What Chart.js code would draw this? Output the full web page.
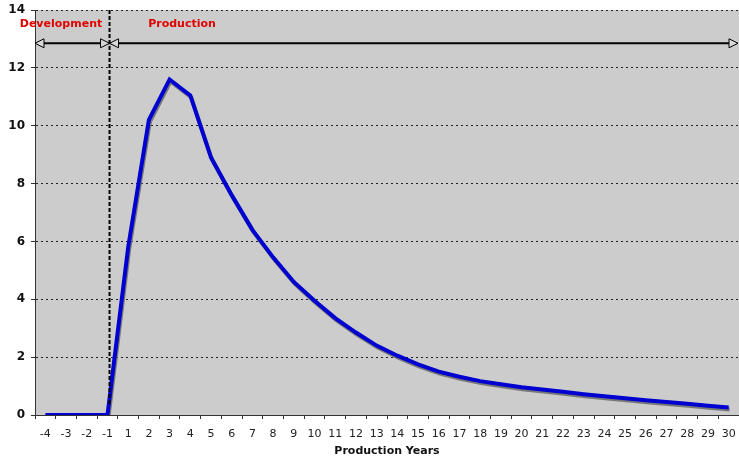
<!DOCTYPE html>
<html lang="en">
<head>
  <meta charset="UTF-8" />
  <title>Production Profile</title>
  <script src="https://cdn.jsdelivr.net/npm/chart.js@4.4.1/dist/chart.umd.min.js"></script>
  <style>
    body { margin: 0; background: #fff; }
    .wrap { width: 739px; height: 460px; }
  </style>
</head>
<body>
  <div class="wrap"><canvas id="chart"></canvas></div>

  <script>
    // Data
    const years = ['-4','-3','-2','-1','1','2','3','4','5','6','7','8','9','10','11','12','13',
                   '14','15','16','17','18','19','20','21','22','23','24','25','26','27','28','29','30'];
    const production = [0, 0, 0, 0, 5.8, 10.2, 11.6, 11.05, 8.9, 7.6, 6.4, 5.45, 4.6, 3.95, 3.35,
                        2.85, 2.4, 2.05, 1.75, 1.5, 1.32, 1.17, 1.06, 0.96, 0.88, 0.8, 0.72, 0.65,
                        0.58, 0.51, 0.45, 0.39, 0.32, 0.26];
    const yTicks = [0, 2, 4, 6, 8, 10, 12, 14];

    // phase markers (category index + value on y axis)
    const phaseSplit = 3.1;   // just right of year -1
    const arrowLevel = 12.85;

    Chart.defaults.font.family = "'DejaVu Sans', Verdana, sans-serif";

    // grey plot area, shadowed line, phase arrows and labels
    const decor = {
      id: 'decor',
      beforeDraw(chart) {
        const { ctx, chartArea: a } = chart;
        ctx.save();
        ctx.fillStyle = '#cccccc';
        ctx.fillRect(a.left, a.top, a.right - a.left, a.bottom - a.top);
        ctx.restore();
      },
      beforeDatasetDraw(chart) {
        const ctx = chart.ctx;
        ctx.save();
        ctx.shadowColor = 'rgba(110,110,110,0.9)';
        ctx.shadowOffsetX = 1;
        ctx.shadowOffsetY = 2;
        ctx.shadowBlur = 0;
      },
      afterDatasetDraw(chart) {
        chart.ctx.restore();
      },
      afterDraw(chart) {
        const { ctx, chartArea: a, scales } = chart;
        const xs = scales.x.getPixelForValue(phaseSplit);
        const ya = scales.y.getPixelForValue(arrowLevel);
        ctx.save();

        // dashed split line
        ctx.strokeStyle = '#000';
        ctx.lineWidth = 2;
        ctx.setLineDash([4, 2]);
        ctx.beginPath();
        ctx.moveTo(xs, a.top);
        ctx.lineTo(xs, scales.y.getPixelForValue(0.35));
        ctx.stroke();
        ctx.setLineDash([]);

        // arrow shafts
        ctx.lineWidth = 2;
        ctx.beginPath();
        ctx.moveTo(a.left + 2, ya);
        ctx.lineTo(a.right - 2, ya);
        ctx.stroke();

        function head(tipX, dir) {
          const len = 9, half = 4.5;
          ctx.beginPath();
          ctx.moveTo(tipX, ya);
          ctx.lineTo(tipX - dir * len, ya - half);
          ctx.lineTo(tipX - dir * len, ya + half);
          ctx.closePath();
          ctx.fillStyle = '#d8d8d8';
          ctx.fill();
          ctx.lineWidth = 1;
          ctx.strokeStyle = '#000';
          ctx.stroke();
        }
        head(a.left, -1);
        head(xs, 1);
        head(xs, -1);
        head(a.right - 1, 1);

        // phase labels
        ctx.fillStyle = '#e00000';
        ctx.font = "bold 11px 'DejaVu Sans', Verdana, sans-serif";
        ctx.textAlign = 'center';
        ctx.textBaseline = 'middle';
        const yl = scales.y.getPixelForValue(13.5);
        ctx.fillText('Development', 61, yl);
        ctx.fillText('Production', scales.x.getPixelForValue(6.6), yl);
        ctx.restore();
      }
    };

    new Chart(document.getElementById('chart'), {
      type: 'line',
      data: {
        labels: years,
        datasets: [{
          data: production,
          borderColor: '#0000d0',
          borderWidth: 4,
          pointRadius: 0,
          tension: 0,
          fill: false
        }]
      },
      options: {
        responsive: true,
        maintainAspectRatio: false,
        animation: false,
        layout: { padding: { top: 10, right: 0, left: 0, bottom: 0 } },
        plugins: { legend: { display: false }, tooltip: { enabled: false } },
        scales: {
          x: {
            offset: true,
            grid: { offset: true, drawOnChartArea: false, tickLength: 4, color: '#333' },
            border: { color: '#333', width: 1 },
            ticks: { color: '#222', font: { size: 11 }, padding: 9, maxRotation: 0, autoSkip: false },
            title: { display: true, text: 'Production Years', color: '#111',
                     font: { size: 11, weight: 'bold' }, padding: { top: 2, bottom: 2 } },
            afterFit(s) { s.height = 45; s.paddingLeft = 0; s.paddingRight = 0; }
          },
          y: {
            min: 0,
            max: 14,
            afterBuildTicks(s) { s.ticks = yTicks.map(v => ({ value: v })); },
            grid: { color: '#222', tickColor: '#333', tickLength: 4, tickBorderDash: [1, 0] },
            border: { color: '#333', width: 1, dash: [2, 3] },
            ticks: { color: '#111', font: { size: 12, weight: 'bold' }, padding: 6 },
            afterFit(s) { s.width = 35; s.paddingTop = 0; s.paddingBottom = 0; }
          }
        }
      },
      plugins: [decor]
    });
  </script>
</body>
</html>
